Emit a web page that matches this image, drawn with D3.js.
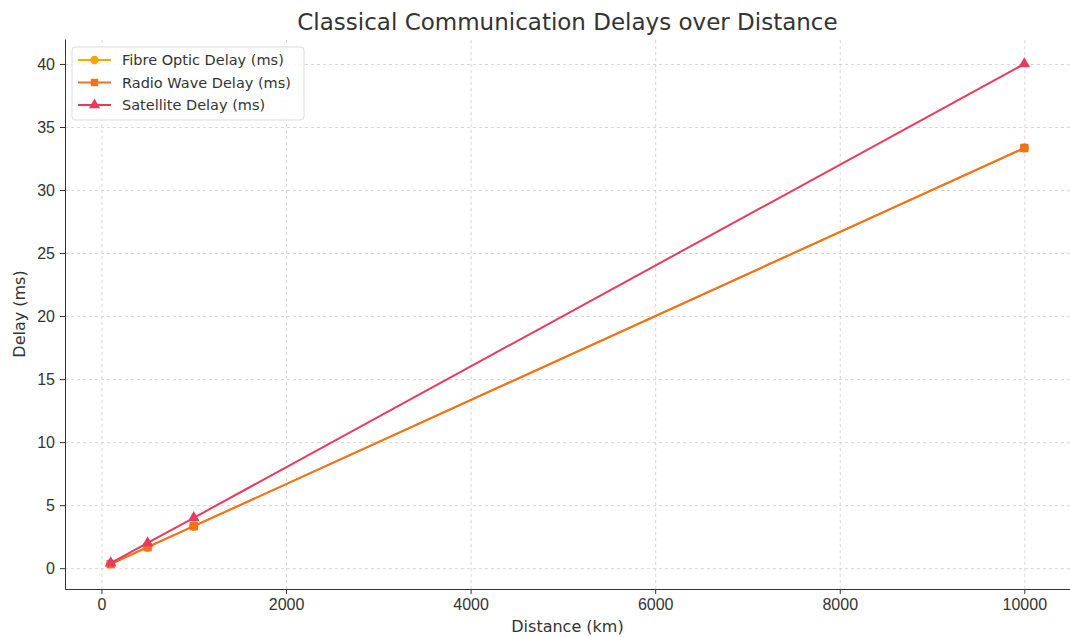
<!DOCTYPE html>
<html lang="en">
<head>
    <meta charset="UTF-8">
    <title>Classical Communication Delays over Distance</title>
    <script src="https://cdn.jsdelivr.net/npm/d3@7"></script>
    <style>
    html, body { margin: 0; padding: 0; background: #fff; }
    svg { display: block; font-family: "DejaVu Sans", sans-serif; }
    .grid line { stroke: #ccc; stroke-dasharray: 3 3; stroke-width: 0.8; }
    .grid path, .grid text { display: none; }
    .axis text { font-size: 16px; fill: #333; }
    .axis path, .axis line { stroke: #333; }
    </style>
</head>
<body>
<div class="marco"></div>
<script>
const distances = [100, 500, 1000, 10000];
const fibreDelay = [0.333, 1.667, 3.333, 33.333];
const radioDelay = [0.333, 1.667, 3.333, 33.333];
const satelliteDelay = [0.4, 2, 4, 40];
const xTicks = [0, 2000, 4000, 6000, 8000, 10000];
const yTicks = [0, 5, 10, 15, 20, 25, 30, 35, 40];

const series = [
    { name: "Fibre Optic Delay (ms)", values: fibreDelay, color: "#ffa500", marker: "circle" },
    { name: "Radio Wave Delay (ms)", values: radioDelay, color: "#f27121", marker: "square" },
    { name: "Satellite Delay (ms)", values: satelliteDelay, color: "#e93a5d", marker: "triangle" }
];

var width = 1070, height = 637,
    margin = { top: 39, left: 65, bottom: 48, right: 0 },
    innerWidth = width - margin.left - margin.right,
    innerHeight = height - margin.top - margin.bottom;

var svg = d3.select(".marco").append("svg")
    .attr("width", width)
    .attr("height", height);

var g = svg.append("g")
    .attr("transform", `translate(${margin.left}, ${margin.top})`);

var x = d3.scaleLinear().domain([-395, 10495]).range([0, innerWidth]),
    y = d3.scaleLinear().domain([-1.65, 41.98]).range([innerHeight, 0]);

// rejilla
g.append("g").attr("class", "grid")
    .attr("transform", `translate(0, ${innerHeight})`)
    .call(d3.axisBottom(x).tickValues(xTicks).tickSize(-innerHeight).tickFormat(""));
g.append("g").attr("class", "grid")
    .call(d3.axisLeft(y).tickValues(yTicks).tickSize(-innerWidth).tickFormat(""));
g.selectAll(".grid text").remove();

// ejes
g.append("g").attr("class", "axis")
    .attr("transform", `translate(0, ${innerHeight})`)
    .call(d3.axisBottom(x).tickValues(xTicks).tickSize(5).tickPadding(5).tickSizeOuter(0).tickFormat(d3.format("d")));
g.append("g").attr("class", "axis")
    .call(d3.axisLeft(y).tickValues(yTicks).tickSize(5).tickPadding(5).tickSizeOuter(0));

var line = d3.line().x(d => x(d[0])).y(d => y(d[1]));
var symbols = { circle: d3.symbolCircle, square: d3.symbolSquare, triangle: d3.symbolTriangle };

series.forEach(s => {
    var pts = distances.map((d, i) => [d, s.values[i]]);
    g.append("path")
        .datum(pts)
        .attr("fill", "none")
        .attr("stroke", s.color)
        .attr("stroke-width", 2)
        .attr("d", line);
    g.selectAll(null)
        .data(pts)
        .enter().append("path")
        .attr("transform", d => `translate(${x(d[0])}, ${y(d[1])})`)
        .attr("d", d3.symbol().type(symbols[s.marker]).size(s.marker === "triangle" ? 60 : 70))
        .attr("fill", s.color);
});

// leyenda
var leyenda = g.append("g").attr("transform", "translate(7, 8)");
leyenda.append("rect")
    .attr("width", 232).attr("height", 73)
    .attr("rx", 3)
    .attr("fill", "rgba(255,255,255,0.85)")
    .attr("stroke", "#ddd");
series.forEach((s, i) => {
    var row = leyenda.append("g").attr("transform", `translate(6, ${13 + i * 22.5})`);
    row.append("line").attr("x1", 0).attr("x2", 33).attr("stroke", s.color).attr("stroke-width", 2);
    row.append("path")
        .attr("transform", "translate(16.5, 0)")
        .attr("d", d3.symbol().type(symbols[s.marker]).size(55))
        .attr("fill", s.color);
    row.append("text")
        .attr("x", 44).attr("y", 5)
        .attr("font-size", 14.5).attr("fill", "#333")
        .text(s.name);
});

// titulos
svg.append("text")
    .attr("x", margin.left + innerWidth / 2).attr("y", 30)
    .attr("text-anchor", "middle")
    .attr("font-size", 23).attr("fill", "#333")
    .text("Classical Communication Delays over Distance");
svg.append("text")
    .attr("x", margin.left + innerWidth / 2).attr("y", 632)
    .attr("text-anchor", "middle")
    .attr("font-size", 16).attr("fill", "#333")
    .text("Distance (km)");
svg.append("text")
    .attr("transform", `translate(25, ${margin.top + innerHeight / 2}) rotate(-90)`)
    .attr("text-anchor", "middle")
    .attr("font-size", 16).attr("fill", "#333")
    .text("Delay (ms)");
</script>
</body>
</html>
